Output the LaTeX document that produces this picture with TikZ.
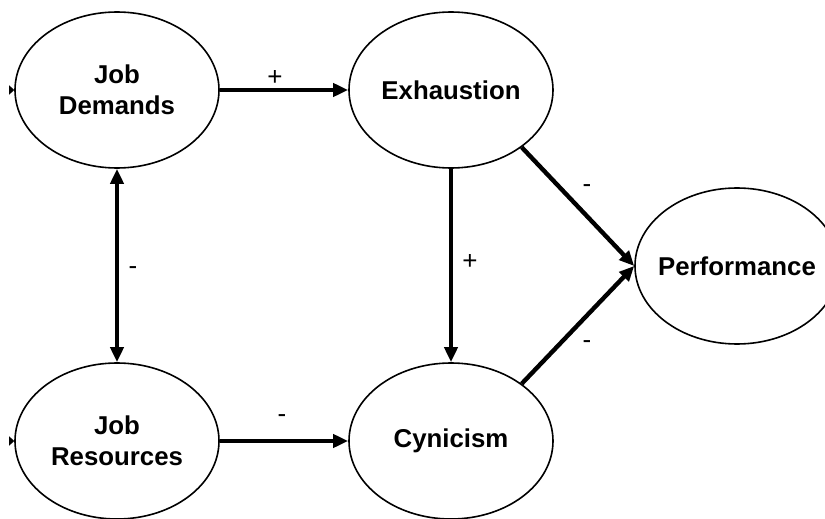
\documentclass[tikz,border=0pt]{standalone}
\usepackage{fontspec}
\setmainfont{Liberation Sans}
\usetikzlibrary{shapes.geometric,arrows.meta}
\begin{document}
\begin{tikzpicture}[x=0.5pt,y=-0.5pt,
  construct/.style={draw,ellipse,line width=0.8pt,minimum width=102pt,minimum height=78pt,
    inner sep=0pt,align=center,font=\fontsize{12.9}{15.5}\selectfont\bfseries},
  link/.style={line width=2.2pt,-{Triangle[length=7.5pt,width=6.5pt]}},
  bothways/.style={line width=2.2pt,{Triangle[length=7.5pt,width=6.5pt]}-{Triangle[length=7.5pt,width=6.5pt]}},
  stub/.style={line width=1pt,-{Triangle[length=2.5pt,width=4.5pt]}},
  sign/.style={font=\fontsize{13}{15}\selectfont,inner sep=0pt}
]
\clip (0,0) rectangle (825,519);
\fill[white] (0,0) rectangle (825,519);

% constructs
\node[construct] (jd)   at (117,90)  {Job\\Demands};
\node[construct] (exh)  at (451,90)  {Exhaustion};
\node[construct] (jr)   at (117,441) {Job\\Resources};
\node[construct] (cyn)  at (451,441) {Cynicism};
\node[construct,inner xsep=-3.4pt] (perf) at (737,266) {Performance};

% incoming error terms
\coordinate (jdin) at (10,90);
\coordinate (jrin) at (10,441);
\draw[stub] (jdin) -- (jd.west);
\draw[stub] (jrin) -- (jr.west);

% paths
\draw[link] (jd.east) -- (exh.west);
\draw[bothways] (jd.south) -- (jr.north);
\draw[link] (exh.south) -- (cyn.north);
\draw[link] (jr.east) -- (cyn.west);
\draw[link] (exh.-39) -- (perf.west);
\draw[link] (cyn.39) -- (perf.west);

% signs
\node[sign] (s1) at (275,78)  {+};
\node[sign] (s2) at (133,271) {-};
\node[sign] (s3) at (470,262) {+};
\node[sign] (s4) at (282,419) {-};
\node[sign] (s5) at (587,189) {-};
\node[sign] (s6) at (587,345) {-};
\end{tikzpicture}
\end{document}
